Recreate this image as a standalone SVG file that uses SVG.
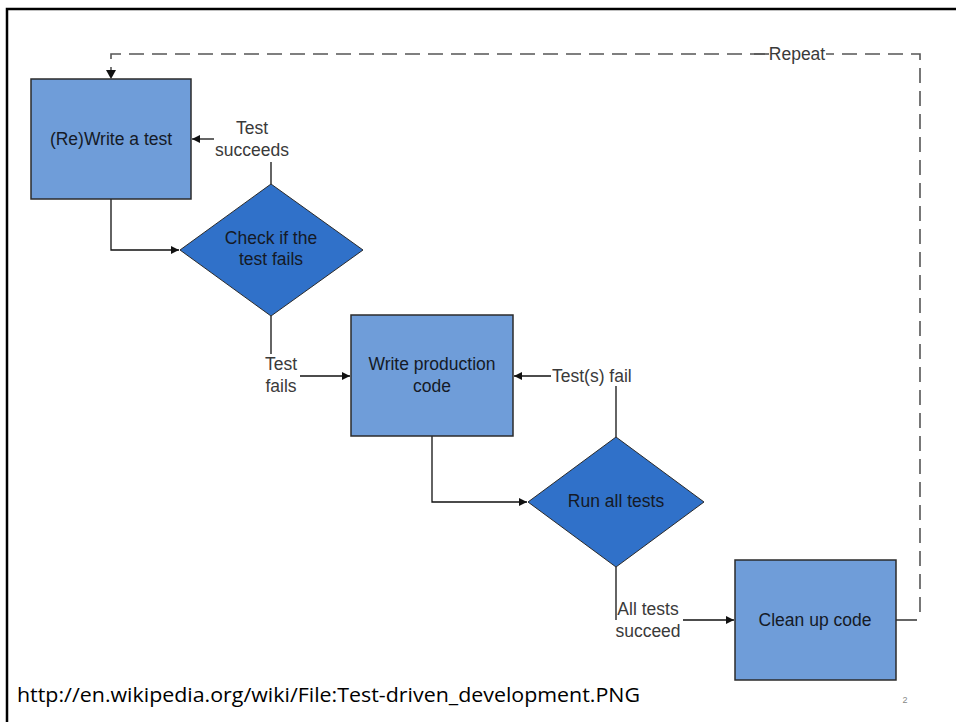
<svg xmlns="http://www.w3.org/2000/svg" width="956" height="722" viewBox="0 0 956 722">
<style>
.box{fill:#6f9dd9;stroke:#2b2b2b;stroke-width:1.5}
.dia{fill:#3071c9;stroke:#2b2b2b;stroke-width:1}
.nt{font-family:"Liberation Sans",Arial,sans-serif;font-size:17.5px;fill:#151a26;text-anchor:middle}
.lb{font-family:"Liberation Sans",Arial,sans-serif;font-size:17.5px;fill:#3a3a3a;text-anchor:middle}
.ln{fill:none;stroke:#111;stroke-width:1.3}
.dash{fill:none;stroke:#555;stroke-width:1.6;stroke-dasharray:15 8}
</style>
<defs>
<marker id="ah" viewBox="0 0 10 10" refX="10" refY="5" markerWidth="8" markerHeight="8" markerUnits="userSpaceOnUse" orient="auto">
<path d="M0,0 L10,5 L0,10 z" fill="#111"/>
</marker>
</defs>
<rect width="956" height="722" fill="#fff"/>
<path d="M7,730 V9 H960" fill="none" stroke="#000" stroke-width="2.5"/>
<g id="connectors">
<path class="ln" d="M111,199 V250 H179" marker-end="url(#ah)"/>
<path class="ln" d="M271,184 V162"/>
<path class="ln" d="M214,139 H192" marker-end="url(#ah)"/>
<path class="ln" d="M271,316 V354"/>
<path class="ln" d="M300,376 H350" marker-end="url(#ah)"/>
<path class="ln" d="M551,376 H514" marker-end="url(#ah)"/>
<path class="ln" d="M616,437 V386"/>
<path class="ln" d="M432,436 V502 H527" marker-end="url(#ah)"/>
<path class="ln" d="M616,567 V620"/>
<path class="ln" d="M683,620 H734" marker-end="url(#ah)"/>
<path class="ln" d="M896,620 H917"/>
<path class="dash" d="M920,612 V54 H111 V70"/>
<path d="M106,70 L116,70 L111,79 z" fill="#111"/>
<path d="M754,54 H770" stroke="#555" stroke-width="1.6"/>
<rect x="769" y="45" width="57" height="17" fill="#fff"/>
<text x="797" y="60" class="lb">Repeat</text>
<text class="lb"><tspan x="252" y="134">Test</tspan><tspan x="252" y="156">succeeds</tspan></text>
<text class="lb"><tspan x="281" y="370">Test</tspan><tspan x="281" y="392">fails</tspan></text>
<text x="552" y="382" class="lb" text-anchor="start" style="text-anchor:start">Test(s) fail</text>
<text class="lb"><tspan x="648" y="615">All tests</tspan><tspan x="648" y="637">succeed</tspan></text>
</g>
<g id="write-test">
<rect class="box" x="31" y="79" width="160" height="120"/>
<text x="111" y="145" class="nt">(Re)Write a test</text>
</g>
<g id="check-fails">
<polygon class="dia" points="271,184 363,250 271,316 180,250"/>
<text class="nt"><tspan x="271" y="244">Check if the</tspan><tspan x="271" y="265">test fails</tspan></text>
</g>
<g id="write-code">
<rect class="box" x="351" y="315" width="162" height="121"/>
<text class="nt"><tspan x="432" y="370">Write production</tspan><tspan x="432" y="392">code</tspan></text>
</g>
<g id="run-tests">
<polygon class="dia" points="616,437 704,502 616,567 528,502"/>
<text x="616" y="507" class="nt">Run all tests</text>
</g>
<g id="clean-up">
<rect class="box" x="735" y="560" width="161" height="120"/>
<text x="815" y="626" class="nt">Clean up code</text>
</g>
<text x="17" y="702" font-family="'Open Sans','Liberation Sans',sans-serif" font-size="20" fill="#000" textLength="623" lengthAdjust="spacingAndGlyphs">http://en.wikipedia.org/wiki/File:Test-driven_development.PNG</text>
<text x="905" y="703" font-family="'Liberation Sans',sans-serif" font-size="9" fill="#888" text-anchor="middle">2</text>
</svg>
